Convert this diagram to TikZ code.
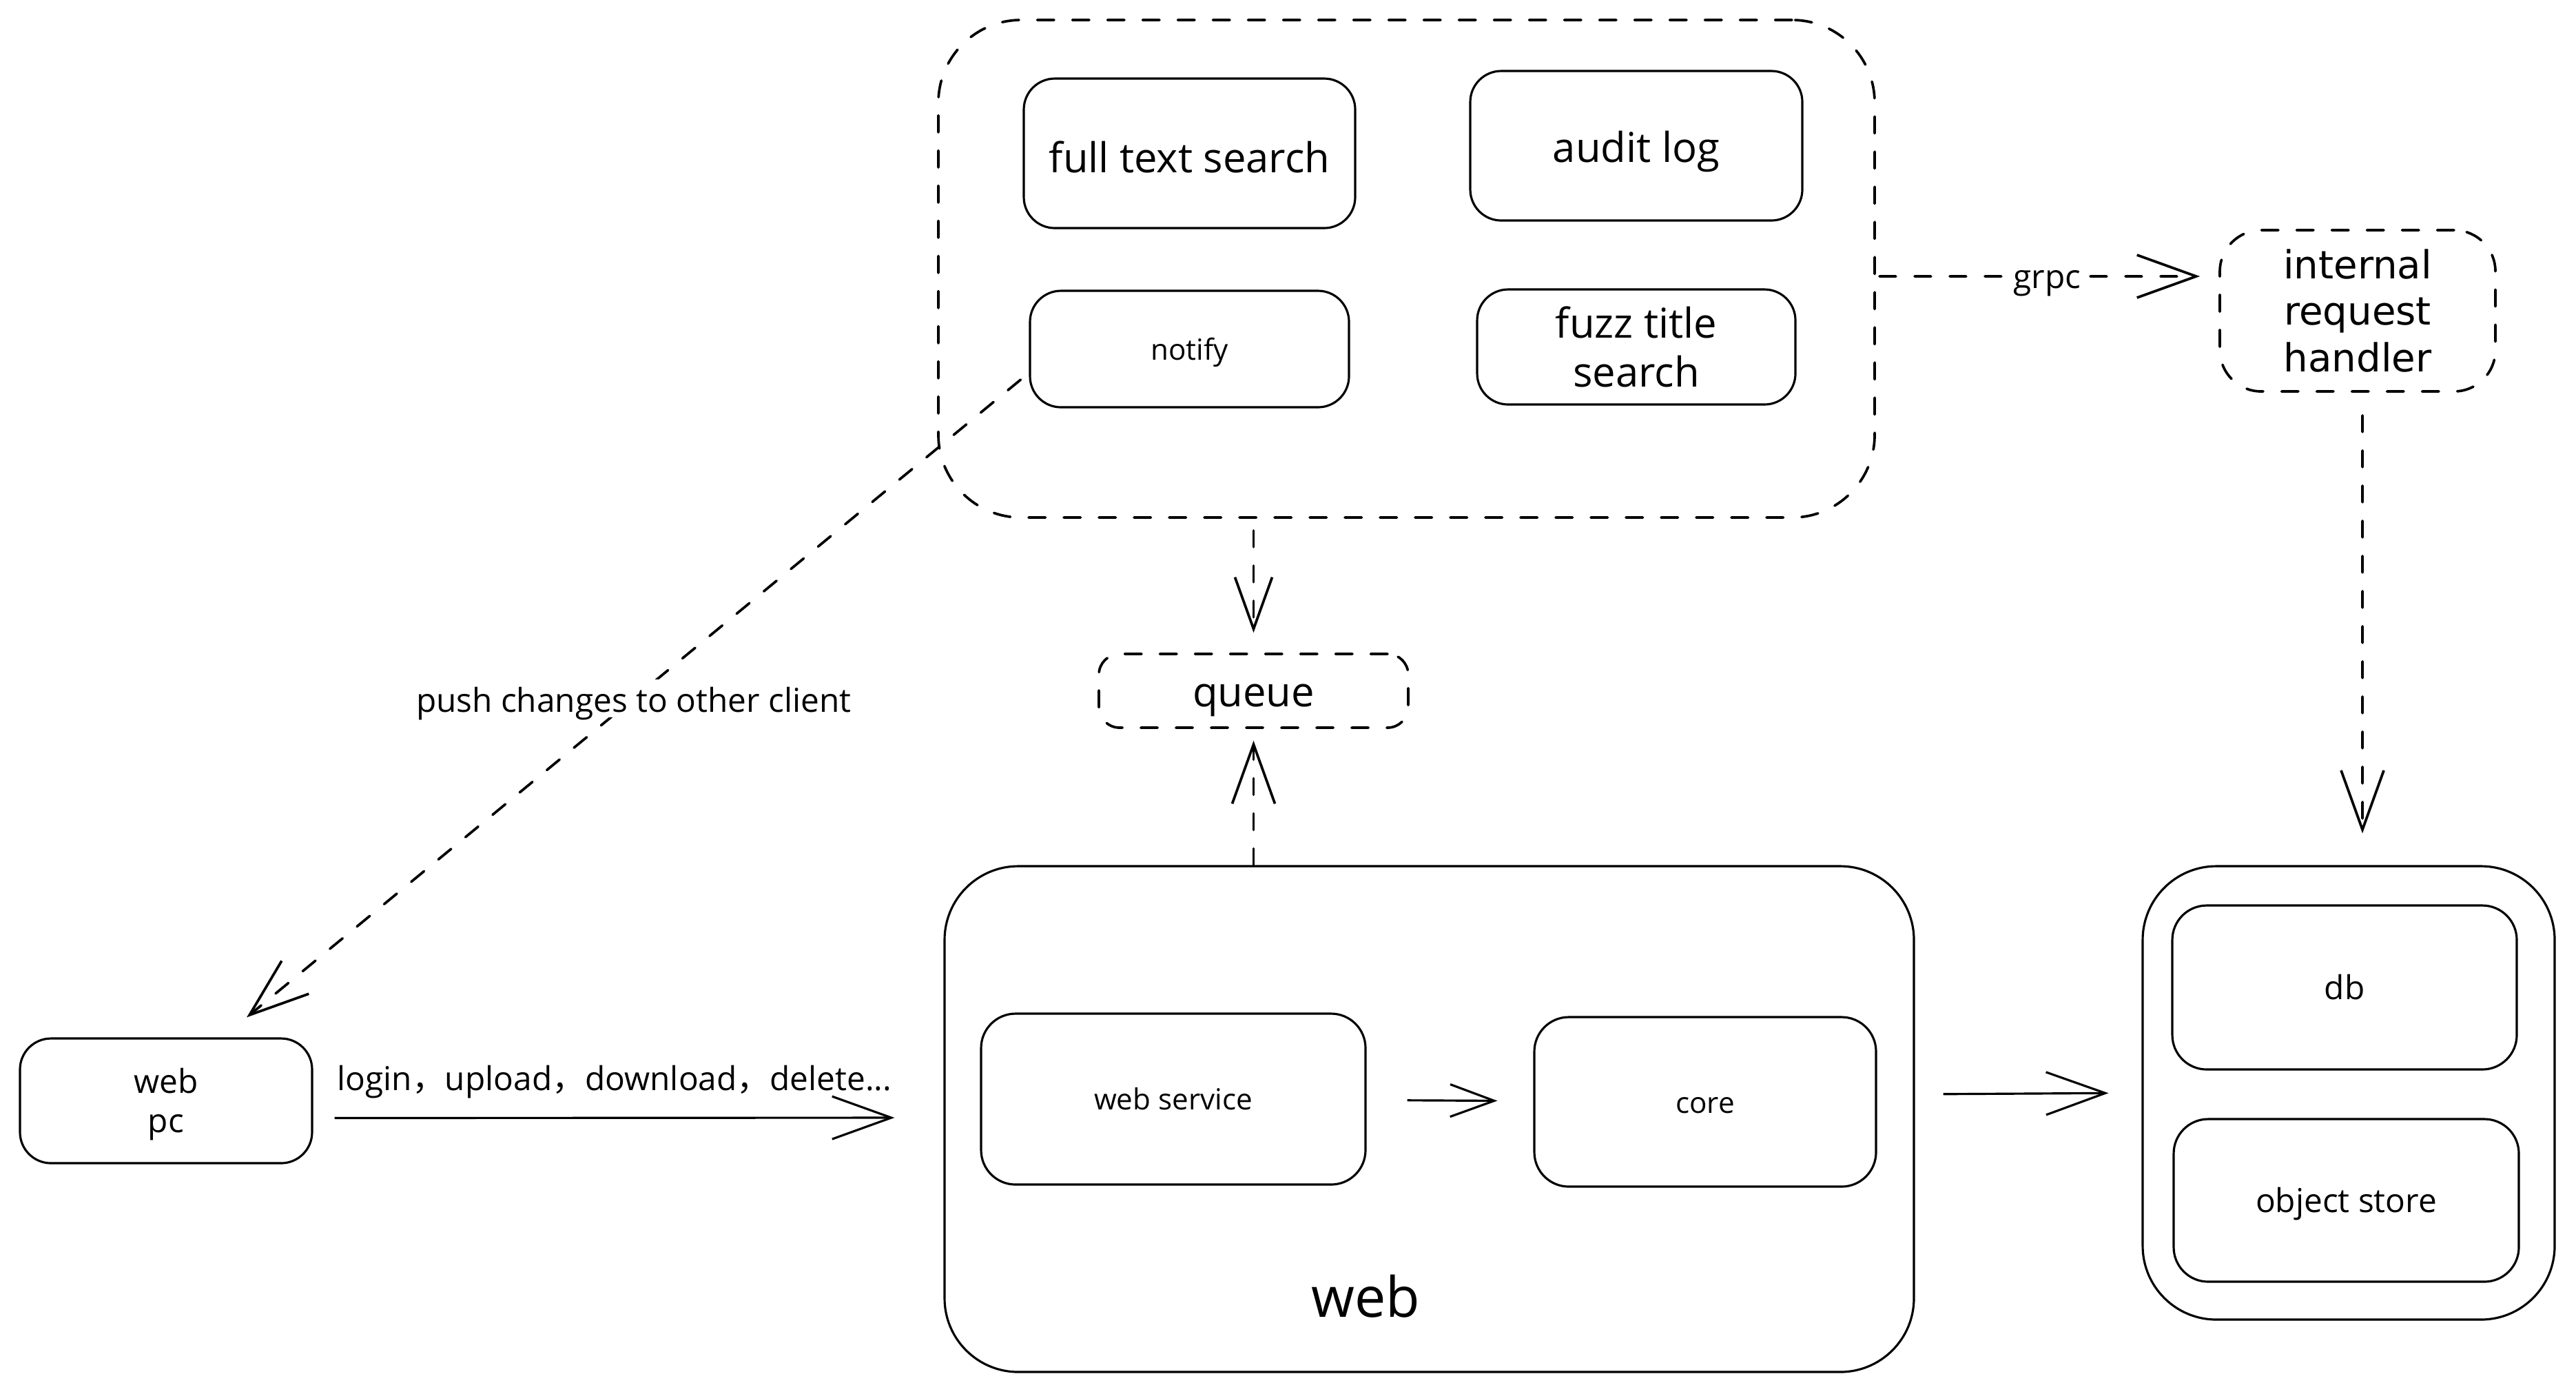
\documentclass[tikz,border=0pt]{standalone}
\usepackage{fontspec}
\setmainfont{Open Sans}
\newfontfamily\widefont{DejaVu Sans}
\newfontfamily\cjk{Noto Sans CJK SC}
\usetikzlibrary{arrows.meta}

\begin{document}
\begin{tikzpicture}[line width=0.9pt, >={Straight Barb[length=0.86cm,width=0.62cm]},
box/.style={draw, rounded corners=0.45cm, align=center, inner sep=0pt},
dbox/.style={box, line width=1.05pt, dash pattern=on 0.245cm off 0.265cm, line cap=round},
dline/.style={line width=1.05pt, dash pattern=on 0.24cm off 0.27cm, line cap=round},
big/.style={font=\fontsize{17pt}{20pt}\selectfont},
mid/.style={font=\fontsize{13.6pt}{16.2pt}\selectfont},
small/.style={font=\fontsize{12pt}{14pt}\selectfont}]
\useasboundingbox (0,0) rectangle (37.39,-20.22);

% services
\node[dbox, rounded corners=1.2cm, minimum width=13.59cm, minimum height=7.22cm] (svc) at (20.415,-3.90) {};
\node[box, big, text height=0.57cm, text depth=0.02cm, minimum width=4.81cm, minimum height=2.17cm] (fts) at (17.265,-2.225) {full text search};
\node[box, big, text height=0.49cm, text depth=0.02cm, minimum width=4.82cm, minimum height=2.17cm] (audit) at (23.75,-2.115) {audit log};
\node[box, small, text height=0.34cm, text depth=0.02cm, minimum width=4.63cm, minimum height=1.69cm] (notify) at (17.265,-5.065) {notify};
\node[box, big, minimum width=4.62cm, minimum height=1.67cm] (fuzz) at (23.75,-5.035) {fuzz title\\search};
\node[dbox, rounded corners=0.6cm, minimum width=4cm, minimum height=2.34cm, font={\widefont\fontsize{16pt}{19.3pt}\selectfont}] (irh) at (34.22,-4.51) {internal\\request\\handler};
\node[dbox, big, text height=0.47cm, text depth=0.02cm, rounded corners=0.3cm, minimum width=4.49cm, minimum height=1.07cm] (queue) at (18.195,-10.025) {queue};

% web
\node[box, rounded corners=1.07cm, minimum width=14.07cm, minimum height=7.34cm] (web) at (20.745,-16.24) {};
\node[font=\fontsize{23pt}{28pt}\selectfont] (weblbl) at (19.82,-18.81) {web};
\node[box, small, rounded corners=0.5cm, minimum width=5.58cm, minimum height=2.48cm] (wsvc) at (17.03,-15.95) {web service};
\node[box, small, text height=0.35cm, text depth=0.02cm, rounded corners=0.5cm, minimum width=4.96cm, minimum height=2.46cm] (core) at (24.75,-15.99) {core};

% storage
\node[box, rounded corners=1.07cm, minimum width=5.98cm, minimum height=6.58cm] (store) at (34.09,-15.86) {};
\node[box, mid, rounded corners=0.5cm, minimum width=5cm, minimum height=2.38cm] (db) at (34.03,-14.33) {db};
\node[box, mid, text height=0.366cm, text depth=0.02cm, rounded corners=0.5cm, minimum width=5.01cm, minimum height=2.36cm] (obj) at (34.055,-17.42) {object store};

% client
\node[box, mid, minimum width=4.24cm, minimum height=1.81cm] (pc) at (2.41,-15.975) {\rule{0pt}{0.464cm}web\\pc};

% arrows
\draw[->] ([shift={(0.31,-0.25)}]pc.east) -- node[above=0.15cm, mid]{login{\cjk ，}upload{\cjk ，}download{\cjk ，}delete...} ([shift={(-0.71,0.02)}]web.west);
\draw[-{Straight Barb[length=0.64cm,width=0.47cm]}, shorten <=0.59cm, shorten >=0.52cm] (wsvc) -- (core);
\draw[->, shorten <=0.41cm, shorten >=0.48cm] ([yshift=0.36cm]web.east) -- (store.west);
\draw[->, dline] (queue.south |- web.north) -- ([yshift=-0.17cm]queue.south);
\draw[-{Straight Barb[length=0.75cm,width=0.54cm]}, dline, shorten <=0.17cm, shorten >=0.29cm] (queue.north |- svc.south) -- (queue.north);
\draw[->, dline, shorten <=0.05cm, shorten >=0.27cm] ([yshift=-0.11cm]svc.east) -- node[fill=white, mid, text height=0.34cm, text depth=0cm, inner sep=1pt]{grpc} ([yshift=0.5cm]irh.west);
\draw[->, dline, shorten <=0.33cm, shorten >=0.46cm] ([xshift=0.07cm]irh.south) -- ([xshift=0.2cm]store.north);
\draw[->, dline] ([shift={(-0.12,-0.445)}]notify.west) -- node[fill=white, mid, text height=0.4cm, text depth=0.01cm, inner sep=2pt]{push changes to other client} ([shift={(1.17,0.29)}]pc.north);
\end{tikzpicture}
\end{document}
